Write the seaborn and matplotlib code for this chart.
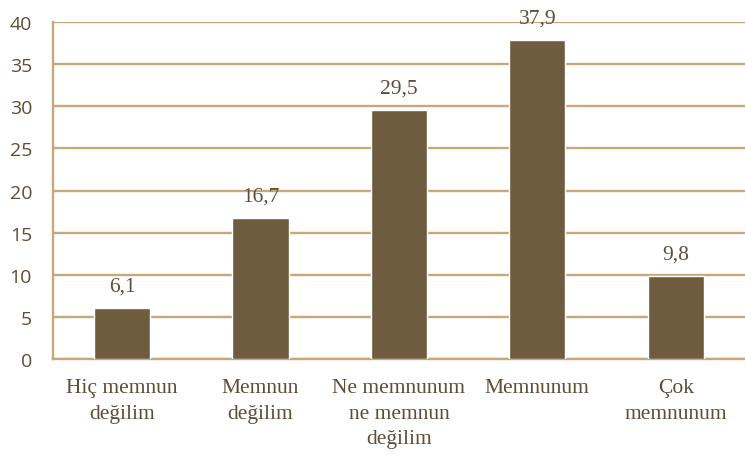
import numpy as np
import pandas as pd
import seaborn as sns
import matplotlib.pyplot as plt

categories = ["Hiç memnun\ndeğilim", "Memnun\ndeğilim", "Ne memnunum\nne memnun\ndeğilim",
              "Memnunum", "Çok\nmemnunum"]
values = [6.1, 16.7, 29.5, 37.9, 9.8]
value_labels = ["6,1", "16,7", "29,5", "37,9", "9,8"]
y_ticks = [0, 5, 10, 15, 20, 25, 30, 35, 40]

bar_color = "#6F5B3E"
grid_color = "#C9A77C"
text_color = "#5E4E38"

sns.set_style("white")
plt.rcParams["font.family"] = ["Liberation Serif", "DejaVu Serif"]
plt.rcParams["text.color"] = text_color
plt.rcParams["xtick.color"] = grid_color
plt.rcParams["ytick.color"] = grid_color
plt.rcParams["xtick.labelcolor"] = text_color
plt.rcParams["ytick.labelcolor"] = text_color

df = pd.DataFrame({"cat": categories, "val": values})

fig = plt.figure(figsize=(7.45, 4.56), dpi=100)
ax = fig.add_axes([0.071, 0.2105, 0.929, 0.739])

sns.barplot(data=df, x="cat", y="val", color=bar_color, width=0.405,
            saturation=1, ax=ax, zorder=3)

ax.set_ylim(0, 40)
ax.set_xlim(-0.5, 4.5)
ax.set_yticks(y_ticks)
ax.yaxis.grid(True, color=grid_color, linewidth=1.7, zorder=0)
ax.set_axisbelow(True)

ax.set_xticks(range(len(categories)))
ax.set_xticklabels(categories, fontsize=15.5, linespacing=1.45)
ax.set_xticks(np.arange(0.5, 4.5, 1), minor=True)
ax.tick_params(axis="x", which="major", length=0, pad=14)
ax.tick_params(axis="x", which="minor", length=6, width=1.4)
ax.tick_params(axis="y", length=6, width=1.4, pad=9)

for s in ["top", "right"]:
    ax.spines[s].set_visible(False)
for s in ["left", "bottom"]:
    ax.spines[s].set_color(grid_color)
    ax.spines[s].set_linewidth(1.7)

for i, (v, lab) in enumerate(zip(values, value_labels)):
    ax.annotate(lab, (i, v), xytext=(0, 9), textcoords="offset points",
                ha="center", va="bottom", fontsize=15.5)

ax.set_xlabel("")
ax.set_ylabel("")

for t in ax.get_yticklabels():
    t.set_fontfamily(["Open Sans", "DejaVu Sans"])
    t.set_fontsize(14)

fig.savefig("out.png", dpi=100)
